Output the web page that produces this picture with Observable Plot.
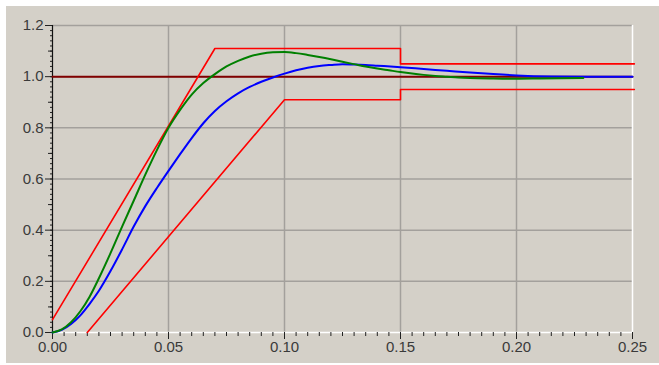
<!DOCTYPE html>
<html><head><meta charset="utf-8">
<script src="https://cdn.jsdelivr.net/npm/d3@7"></script>
<script src="https://cdn.jsdelivr.net/npm/@observablehq/plot@0.6"></script>
<style>
html,body{margin:0;padding:0;background:#fff;}
#wrap{position:relative;width:659px;height:365px;overflow:hidden;}
#panel{position:absolute;left:6px;top:6px;right:0;bottom:2px;background:#d4d0c8;}
#chart{position:absolute;left:0;top:0;}
#chart svg text{font-size:15px !important;font-family:'Liberation Sans',Arial,sans-serif;}
</style></head><body>
<div id="wrap"><div id="panel"></div><div id="chart"></div></div>
<script>
// Green response (time s, output)
const greenT = [0, 0.004, 0.008, 0.012, 0.016, 0.020, 0.025, 0.030, 0.035, 0.040, 0.045, 0.050, 0.055, 0.060, 0.065, 0.070, 0.075, 0.080, 0.085, 0.090, 0.095, 0.100, 0.105, 0.110, 0.115, 0.120, 0.125, 0.130, 0.135, 0.140, 0.145, 0.150, 0.155, 0.160, 0.165, 0.170, 0.175, 0.180, 0.190, 0.200, 0.210, 0.2288];
const greenV = [0, 0.012, 0.040, 0.083, 0.140, 0.212, 0.310, 0.414, 0.515, 0.617, 0.713, 0.800, 0.870, 0.930, 0.975, 1.010, 1.040, 1.062, 1.079, 1.090, 1.095, 1.096, 1.092, 1.085, 1.077, 1.068, 1.058, 1.049, 1.040, 1.032, 1.025, 1.018, 1.012, 1.007, 1.003, 1.000, 0.997, 0.995, 0.993, 0.992, 0.993, 0.995];
// Blue response
const blueT = [0, 0.004, 0.008, 0.012, 0.016, 0.020, 0.025, 0.030, 0.035, 0.040, 0.045, 0.050, 0.055, 0.060, 0.065, 0.070, 0.075, 0.080, 0.085, 0.090, 0.095, 0.100, 0.105, 0.110, 0.115, 0.120, 0.125, 0.130, 0.135, 0.140, 0.150, 0.160, 0.170, 0.180, 0.190, 0.200, 0.215, 0.230, 0.250];
const blueV = [0, 0.010, 0.033, 0.067, 0.112, 0.163, 0.240, 0.325, 0.414, 0.494, 0.565, 0.632, 0.697, 0.760, 0.818, 0.866, 0.904, 0.935, 0.960, 0.980, 0.997, 1.012, 1.025, 1.035, 1.042, 1.046, 1.049, 1.048, 1.046, 1.043, 1.037, 1.030, 1.023, 1.016, 1.010, 1.005, 1.001, 1.000, 1.000];
// Red tolerance envelope
const upperT = [0, 0.07, 0.15, 0.15, 0.2508];
const upperV = [0.05, 1.11, 1.11, 1.05, 1.05];
const lowerT = [0.015, 0.10, 0.15, 0.15, 0.2508];
const lowerV = [0, 0.91, 0.91, 0.95, 0.95];
// Reference level
const refT = [0, 0.25];
const refV = [1.0, 1.0];
// Ticks
const xMajor = [0, 0.05, 0.10, 0.15, 0.20, 0.25];
const xMajorLabels = ["0.00", "0.05", "0.10", "0.15", "0.20", "0.25"];
const xMinor = d3.range(0, 51).map(i => i * 0.005);
const yMajor = [0, 0.2, 0.4, 0.6, 0.8, 1.0, 1.2];
const yMajorLabels = ["0.0", "0.2", "0.4", "0.6", "0.8", "1.0", "1.2"];
const yMid = [0.1, 0.3, 0.5, 0.7, 0.9, 1.1];
const yMinor = d3.range(0, 61).map(i => i * 0.02);
const xGrid = [0.05, 0.10, 0.15, 0.20];
const yGrid = [0.2, 0.4, 0.6, 0.8, 1.0, 1.2];

const toPts = (T, V) => T.map((t, i) => ({t, v: V[i]}));
const gridColor = "#a3a09c";
const font = "'Liberation Sans', Arial, sans-serif";

const chart = Plot.plot({
  width: 659, height: 365,
  marginLeft: 52, marginRight: 27, marginTop: 25, marginBottom: 33,
  x: {domain: [0, 0.25]},
  y: {domain: [0, 1.2]},
  style: {background: "transparent", fontFamily: font, fontSize: "15px", color: "#3a3a3a", overflow: "visible"},
  marks: [
    Plot.gridX(xGrid, {stroke: gridColor, strokeOpacity: 1, strokeWidth: 1.5}),
    Plot.gridY(yGrid, {stroke: gridColor, strokeOpacity: 1, strokeWidth: 1.5}),
    Plot.ruleX([0.25], {stroke: "white", strokeWidth: 1.5}),
    Plot.ruleY([0], {stroke: "white", strokeWidth: 1.5}),
    Plot.axisX(xMinor, {tickSize: 4, tickFormat: () => "", label: null, stroke: "#222"}),
    Plot.axisX(xMajor, {tickSize: 7, tickPadding: 2, fontSize: 15, tickFormat: (d, i) => xMajorLabels[i], label: null, stroke: "#222", fill: "#3a3a3a"}),
    Plot.axisY(yMinor, {tickSize: 2, tickFormat: () => "", label: null, stroke: "#222"}),
    Plot.axisY(yMid, {tickSize: 4, tickFormat: () => "", label: null, stroke: "#222"}),
    Plot.axisY(yMajor, {tickSize: 7, tickPadding: 2, fontSize: 15, tickFormat: (d, i) => yMajorLabels[i], label: null, stroke: "#222", fill: "#3a3a3a"}),
    Plot.ruleX([0], {stroke: "#111", strokeWidth: 1.2}),
    Plot.line(toPts(refT, refV), {x: "t", y: "v", stroke: "#800000", strokeWidth: 2}),
    Plot.line(toPts(upperT, upperV), {x: "t", y: "v", stroke: "#ff0000", strokeWidth: 1.6, clip: false}),
    Plot.line(toPts(lowerT, lowerV), {x: "t", y: "v", stroke: "#ff0000", strokeWidth: 1.6, clip: false}),
    Plot.line(toPts(blueT, blueV), {x: "t", y: "v", stroke: "#0000ff", strokeWidth: 2, curve: "monotone-x"}),
    Plot.line(toPts(greenT, greenV), {x: "t", y: "v", stroke: "#008000", strokeWidth: 2, curve: "monotone-x"})
  ]
});
document.getElementById("chart").appendChild(chart);
</script>
</body></html>
